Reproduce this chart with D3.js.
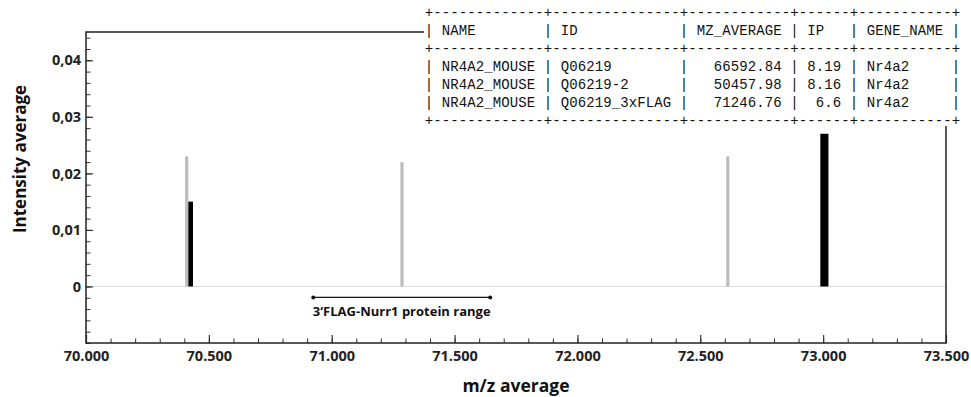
<!DOCTYPE html>
<html>
<head>
<meta charset="utf-8">
<script src="https://cdn.jsdelivr.net/npm/d3@7"></script>
<style>
  body { margin: 0; background: #fff; }
  svg { display: block; }
</style>
</head>
<body>
<div id="chart"></div>
<script>
// predicted peaks (grey) and measured peaks (black), m/z in Da
const predictedMz = [70410, 71286, 72612];
const predictedIntensity = [0.023, 0.022, 0.023];
const measuredMz = [70426, 73005];
const measuredIntensity = [0.015, 0.027];
const measuredWidthDa = [19, 33];

const xTicks = [70000, 70500, 71000, 71500, 72000, 72500, 73000, 73500];
const yTicks = [0, 0.01, 0.02, 0.03, 0.04];

const rangeLabel = "3‘FLAG-Nurr1 protein range";
const proteinRange = [70925, 71645];

const tableColumns = ["NAME", "ID", "MZ_AVERAGE", "IP", "GENE_NAME"];
const tableNames = ["NR4A2_MOUSE", "NR4A2_MOUSE", "NR4A2_MOUSE"];
const tableIds = ["Q06219", "Q06219-2", "Q06219_3xFLAG"];
const tableMz = ["66592.84", "50457.98", "71246.76"];
const tableIp = ["8.19", "8.16", "6.6"];
const tableGenes = ["Nr4a2", "Nr4a2", "Nr4a2"];

const W = 971, H = 397;
const margin = { top: 32, right: 25, bottom: 54, left: 86 };
const iw = W - margin.left - margin.right;
const ih = H - margin.top - margin.bottom;

const loc = d3.formatLocale({ decimal: ",", thousands: ".", grouping: [3], currency: ["", "€"] });
const fx = loc.format(",.0f");
const fy = loc.format(".2~f");

const svg = d3.select("#chart").append("svg")
    .attr("width", W)
    .attr("height", H)
    .style("font-family", "'Open Sans', sans-serif");

const x = d3.scaleLinear().domain([70000, 73500]).range([0, iw]);
const y = d3.scaleLinear().domain([-0.01, 0.045]).range([ih, 0]);

const g = svg.append("g").attr("transform", `translate(${margin.left},${margin.top})`);

// zero line
g.append("line")
    .attr("x1", 0).attr("x2", iw)
    .attr("y1", y(0)).attr("y2", y(0))
    .attr("stroke", "#dcdcdc");

// minor ticks
g.append("g")
    .attr("transform", `translate(0,${ih})`)
    .call(d3.axisBottom(x).tickValues(d3.range(70000, 73501, 100)).tickSize(-4.5).tickFormat(""))
    .call(a => a.select(".domain").remove())
    .call(a => a.selectAll("line").attr("stroke", "#333"));
g.append("g")
    .call(d3.axisLeft(y).tickValues(d3.range(-0.01, 0.0451, 0.002)).tickSize(-4.5).tickFormat(""))
    .call(a => a.select(".domain").remove())
    .call(a => a.selectAll("line").attr("stroke", "#333"));

// major ticks
const xa = g.append("g")
    .attr("transform", `translate(0,${ih})`)
    .call(d3.axisBottom(x).tickValues(xTicks).tickSize(-8).tickPadding(8).tickFormat(fx));
const ya = g.append("g")
    .call(d3.axisLeft(y).tickValues(yTicks).tickSize(-7).tickPadding(5).tickFormat(fy));
[xa, ya].forEach(a => {
    a.select(".domain").remove();
    a.selectAll("line").attr("stroke", "#333").attr("stroke-width", 1.2);
    a.selectAll("text")
        .attr("fill", "#222")
        .style("font-family", "'Open Sans', sans-serif")
        .style("font-weight", 700)
        .style("font-size", "14.5px");
});

// frame
g.append("rect")
    .attr("width", iw).attr("height", ih)
    .attr("fill", "none")
    .attr("stroke", "#222")
    .attr("stroke-width", 1.5);

// peaks
g.selectAll(".pred")
    .data(predictedMz)
    .join("rect")
    .attr("class", "pred")
    .attr("x", d => x(d) - 1.6)
    .attr("width", 3.2)
    .attr("y", (d, i) => y(predictedIntensity[i]))
    .attr("height", (d, i) => y(0) - y(predictedIntensity[i]))
    .attr("fill", "#bdbdbd");

g.selectAll(".meas")
    .data(measuredMz)
    .join("rect")
    .attr("class", "meas")
    .attr("x", (d, i) => x(d - measuredWidthDa[i] / 2))
    .attr("width", (d, i) => x(d + measuredWidthDa[i] / 2) - x(d - measuredWidthDa[i] / 2))
    .attr("y", (d, i) => y(measuredIntensity[i]))
    .attr("height", (d, i) => y(0) - y(measuredIntensity[i]))
    .attr("fill", "#000");

// protein range annotation
const ry = y(0) + 11;
g.append("line")
    .attr("x1", x(proteinRange[0])).attr("x2", x(proteinRange[1]))
    .attr("y1", ry).attr("y2", ry)
    .attr("stroke", "#111").attr("stroke-width", 1.3);
g.selectAll(".rdot")
    .data(proteinRange)
    .join("circle")
    .attr("cx", d => x(d)).attr("cy", ry).attr("r", 2)
    .attr("fill", "#111");
g.append("text")
    .attr("x", x((proteinRange[0] + proteinRange[1]) / 2))
    .attr("y", ry + 19)
    .attr("text-anchor", "middle")
    .attr("fill", "#111")
    .style("font-weight", 700)
    .style("font-size", "13px")
    .text(rangeLabel);

// axis titles
svg.append("text")
    .attr("x", margin.left + iw / 2)
    .attr("y", 392)
    .attr("text-anchor", "middle")
    .attr("fill", "#111")
    .style("font-weight", 700)
    .style("font-size", "17.5px")
    .text("m/z average");
svg.append("text")
    .attr("transform", "translate(26,159) rotate(-90)")
    .attr("text-anchor", "middle")
    .attr("fill", "#111")
    .style("font-weight", 700)
    .style("font-size", "17px")
    .text("Intensity average");

// ascii table overlay
const widths = tableColumns.map((c, j) => d3.max([c, ...[tableNames, tableIds, tableMz, tableIp, tableGenes][j]], s => s.length));
const rightAlign = [false, false, true, true, false];
const sep = "+" + widths.map(w => "-".repeat(w + 2)).join("+") + "+";
const row = cells => "| " + cells.map((c, j) => rightAlign[j] && cells !== tableColumns ? c.padStart(widths[j]) : c.padEnd(widths[j])).join(" | ") + " |";
const lines = [sep, row(tableColumns), sep];
tableNames.forEach((n, i) => lines.push(row([tableNames[i], tableIds[i], tableMz[i], tableIp[i], tableGenes[i]])));
lines.push(sep);

svg.append("rect")
    .attr("x", 424).attr("y", 0)
    .attr("width", W - 424).attr("height", 126)
    .attr("fill", "#fff");
svg.selectAll(".tline")
    .data(lines)
    .join("text")
    .attr("class", "tline")
    .attr("x", 424.7)
    .attr("y", (d, i) => 17 + i * 18.05)
    .attr("textLength", 535.5)
    .attr("lengthAdjust", "spacing")
    .attr("fill", "#111")
    .style("font-family", "'Liberation Mono', monospace")
    .style("font-size", "14px")
    .style("white-space", "pre")
    .attr("xml:space", "preserve")
    .text(d => d);
</script>
</body>
</html>
